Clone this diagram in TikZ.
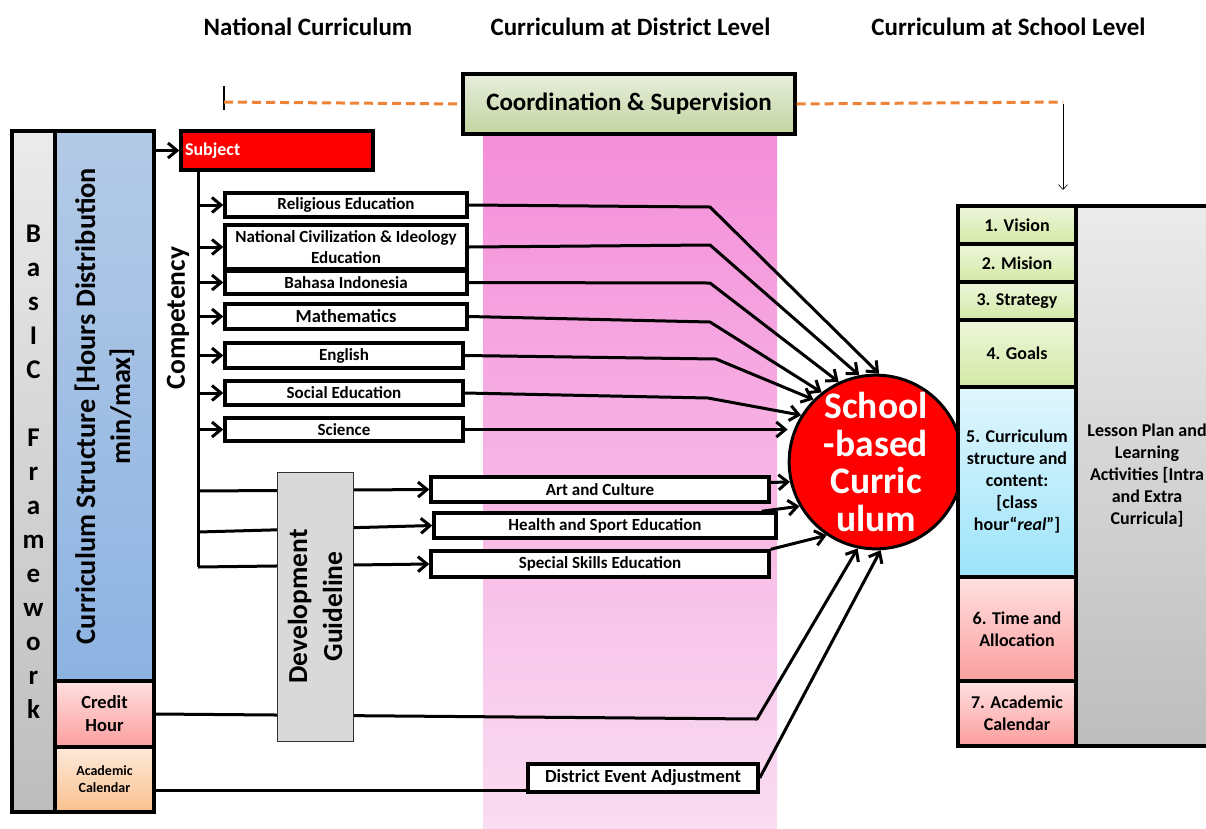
\documentclass[tikz,border=0pt]{standalone}
\usepackage{fontspec}
\setmainfont{Carlito}
\usetikzlibrary{arrows.meta}
\definecolor{pinkTop}{HTML}{F48ED9}
\definecolor{pinkBot}{HTML}{F9DDF1}
\definecolor{orangeDash}{HTML}{EE8236}
\definecolor{grayTop}{HTML}{EBEBEB}
\definecolor{grayBot}{HTML}{BDBDBD}
\definecolor{blueTop}{HTML}{B3CAE6}
\definecolor{blueBot}{HTML}{8DB3E2}
\definecolor{redTop}{HTML}{FFE0E0}
\definecolor{redBot}{HTML}{FB9E9E}
\definecolor{orTop}{HTML}{FDE9D9}
\definecolor{orBot}{HTML}{FAC08F}
\definecolor{grnTop}{HTML}{E7EEDC}
\definecolor{grnBot}{HTML}{C2D5A0}
\definecolor{lgTop}{HTML}{EDF6DA}
\definecolor{lgBot}{HTML}{D3E9A6}
\definecolor{cyTop}{HTML}{E0F6FD}
\definecolor{cyBot}{HTML}{9DE4FA}
\definecolor{devGray}{HTML}{D9D9D9}
\newcommand{\fz}[2]{\bfseries\fontsize{#1}{#2}\selectfont}
\begin{document}
\begin{tikzpicture}[x=1pt,y=-1pt,
  hdr/.style={font=\fz{25}{30}},
  thickbox/.style={draw=black, line width=3.4pt, inner sep=1pt, align=center},
  subjbox/.style={thickbox, fill=white, font=\fz{17}{21}},
  rcell/.style={thickbox, minimum width=118pt, font=\fz{18}{22}},
  conn/.style={line width=3pt, line join=round, -{Straight Barb[length=9pt,width=15pt]}},
  plain/.style={line width=3pt, line join=round}
]
\useasboundingbox (0,0) rectangle (1206,828);

% headers
\node[hdr] (h1) at (308,27) {National Curriculum};
\node[hdr] (h2) at (630.5,27) {Curriculum at District Level};
\node[hdr] (h3) at (1008.5,27) {Curriculum at School Level};

% pink district band
\fill[top color=pinkTop, bottom color=pinkBot] (483,134) rectangle (777,828);

% coordination
\node[thickbox, top color=grnTop, bottom color=grnBot, minimum width=332pt, minimum height=60pt, font=\fz{25}{30}] (coord) at (629,104) {Coordination \& Supervision};
\coordinate (tick) at (224,102);
\coordinate (down) at (1063,102);
\draw[line width=2.5pt] (224,86) -- (224,110);
\draw[orangeDash, line width=3pt, dash pattern=on 9pt off 5pt] (tick) -- (coord.west);
\draw[orangeDash, line width=3pt, dash pattern=on 9pt off 5pt] (coord.east) -- (down);
\draw[line width=0.6pt, -{Straight Barb[length=5pt,width=9pt]}] (1063,104) -- (1063,190);

% left framework
\node[thickbox, top color=grayTop, bottom color=grayBot, minimum width=43pt, minimum height=681pt, font=\fz{27}{34}] (bf) at (33.5,471.5)
  {B\\a\\s\\I\\C\\[34pt]F\\r\\a\\m\\e\\w\\o\\r\\k};
\node[thickbox, top color=blueTop, bottom color=blueBot, minimum width=99pt, minimum height=550pt] (cs) at (104.5,406) {};
\node[rotate=90, align=center, font=\fz{28.3}{35}] (cstext) at (cs.center) {Curriculum Structure [Hours Distribution\\min/max]};
\node[thickbox, top color=redTop, bottom color=redBot, minimum width=99pt, minimum height=66pt, font=\fz{18.5}{23}] (credit) at (104.5,714) {Credit\\Hour};
\node[thickbox, top color=orTop, bottom color=orBot, minimum width=99pt, minimum height=65pt, font=\fz{14}{17}] (acad) at (104.5,779.5) {Academic\\Calendar};

% subject
\node[thickbox, fill=red, text=white, text width=184pt, inner xsep=4pt, minimum height=39pt, align=left, font=\fz{18}{22}] (subj) at (277,150.5) {Subject};
\draw[conn] (cs.east |- subj.west) -- (subj.west);
\coordinate (trunkTop) at (198,170);
\coordinate (trunkBot) at (198,567);
\draw[plain] (trunkTop) -- (trunkBot);
\node[rotate=90, font=\fz{27.5}{32}] (comp) at (178,318) {Competency};

\node[subjbox, minimum width=242pt, minimum height=24pt] (rel) at (346,205) {Religious Education};
\node[subjbox, minimum width=242pt, minimum height=44pt] (nat) at (346,247) {National Civilization \& Ideology\\Education};
\node[subjbox, minimum width=242pt, minimum height=23pt] (bah) at (346,282.5) {Bahasa Indonesia};
\node[subjbox, minimum width=242pt, minimum height=25pt, font=\fz{18.5}{22}] (math) at (346,316.5) {Mathematics};
\node[subjbox, minimum width=238pt, minimum height=25pt] (eng) at (344,355.5) {English};
\node[subjbox, minimum width=238pt, minimum height=24pt] (soc) at (344,393) {Social Education};
\node[subjbox, minimum width=238pt, minimum height=23pt] (sci) at (344,429.5) {Science};

\foreach \n in {rel,nat,bah,math,eng,soc,sci}
  \draw[conn] (\n.west -| trunkTop) -- (\n.west);

% circle
\node[circle, draw=black, line width=3pt, fill=red, text=white, minimum size=166pt, inner sep=0pt, align=center, font=\fz{37.5}{37.5}] (sbc) at (876,462) {School\\-based\\Curric\\ulum};

% lower subjects
\node[subjbox, minimum width=338pt, minimum height=25pt] (art) at (600,489.5) {Art and Culture};
\node[subjbox, minimum width=342pt, minimum height=25pt] (health) at (605,525.5) {Health and Sport Education};
\node[subjbox, minimum width=338pt, minimum height=26pt] (spec) at (600,564) {Special Skills Education};
\node[subjbox, minimum width=230pt, minimum height=28pt, font=\fz{18.5}{22}] (dist) at (643,778) {District Event Adjustment};

\draw[conn] (198,491) -- (art.west);
\draw[conn] (198,532) -- (health.west);
\draw[conn] (trunkBot) -- (spec.west);
\draw[conn] (credit.east) -- (757,719) -- (sbc.258);
\draw[plain] ([yshift=-11pt]acad.east) -- ([yshift=-11pt]acad.east -| dist.west);

% development guideline
\node[draw=black!80, line width=0.8pt, fill=devGray, minimum width=76pt, minimum height=269pt] (dev) at (315,606.5) {};
\node[rotate=90, align=center, font=\fz{27.5}{35}] (devtext) at (dev.center) {Development\\Guideline};

% connectors to the circle
\draw[conn] (rel.east) -- (710,207) -- (sbc.88);
\draw[conn] (nat.east) -- (710,245) -- (sbc.101);
\draw[conn] (bah.east) -- (710,283) -- (sbc.115);
\draw[conn] (math.east) -- (710,322) -- (sbc.128);
\draw[conn] (eng.east) -- (716,359) -- (sbc.135);
\draw[conn] (soc.east) -- (708,398) -- (sbc.148);
\draw[conn] (sci.east) -- (sbc.west |- sci.east);
\draw[conn] ([yshift=7pt]art.east) -- (sbc.193);
\draw[conn] ([xshift=-16pt]health.north east) -- (sbc.210);
\draw[conn] (spec.north east) -- (sbc.236);
\draw[conn] (dist.east) -- (sbc.273);

% school level
\node[rcell, top color=lgTop, bottom color=lgBot, minimum height=38pt] (vis) at (1017,225) {1. Vision};
\node[rcell, top color=lgTop, bottom color=lgBot, minimum height=38pt] (mis) at (1017,263) {2. Mision};
\node[rcell, top color=lgTop, bottom color=lgBot, minimum height=38pt] (str) at (1017,301) {3. Strategy};
\node[rcell, top color=lgTop, bottom color=lgBot, minimum height=67pt] (goal) at (1017,353.5) {4. Goals};
\node[rcell, top color=cyTop, bottom color=cyBot, minimum height=190pt] (cur) at (1017,482) {5. Curriculum\\structure and\\content:\\{[}class\\hour“\textit{real}”{]}};
\node[rcell, top color=redTop, bottom color=redBot, minimum height=104pt] (time) at (1017,629) {6. Time and\\Allocation};
\node[rcell, top color=redTop, bottom color=redBot, minimum height=65pt] (cal) at (1017,713.5) {7. Academic\\Calendar};
\node[thickbox, top color=grayTop, bottom color=grayBot, minimum width=142pt, minimum height=540pt, font=\fz{18}{22}] (lesson) at (1147,476) {Lesson Plan and\\Learning\\Activities {[}Intra\\and Extra\\Curricula{]}};
\end{tikzpicture}
\end{document}
